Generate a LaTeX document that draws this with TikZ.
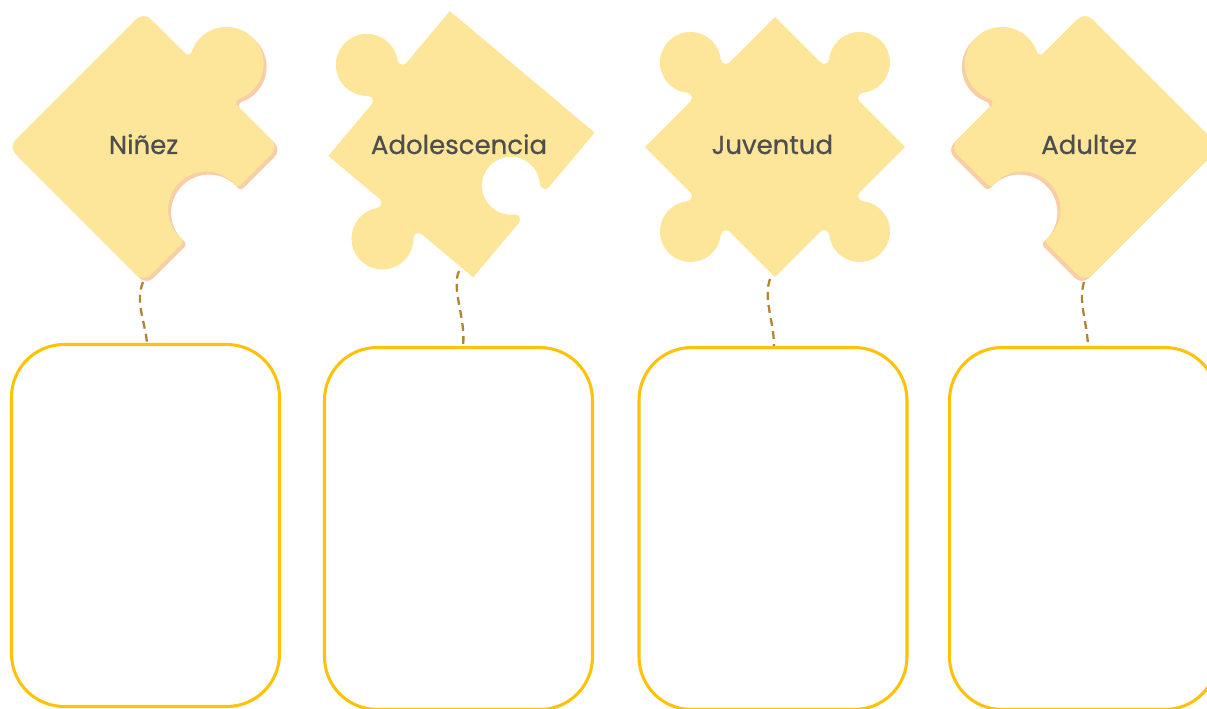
\documentclass[tikz,border=0pt]{standalone}
\usepackage{fontspec}
\setmainfont{Poppins}
\newfontfamily\labelfont[FakeBold=0.6]{Poppins}
\usepackage{tikz}

\definecolor{piecefill}{RGB}{253,230,153}
\definecolor{pieceshade}{RGB}{249,205,166}
\definecolor{boxgold}{RGB}{255,194,10}
\definecolor{linkbrown}{RGB}{176,132,52}
\definecolor{labelgray}{RGB}{78,78,78}

% puzzle edge helpers: d = offset of the circle, r = radius, f = fillet
\newcommand\neck[3]{sqrt((#2+#3)^2-(#1-#3)^2)}
\newcommand\tilt[3]{atan((#1-#3)/\neck{#1}{#2}{#3})}
\newcommand\flatedge[2]{-- ++({#1}:{2*#2})}
\newcommand\knobedge[5]{-- ++({#1}:{#2-\neck{#3}{#4}{#5}})
  arc[start angle={#1-90}, delta angle={90+\tilt{#3}{#4}{#5}}, radius=#5]
  arc[start angle={#1+180+\tilt{#3}{#4}{#5}}, delta angle={-180-2*\tilt{#3}{#4}{#5}}, radius=#4]
  arc[start angle={#1+180-\tilt{#3}{#4}{#5}}, delta angle={90+\tilt{#3}{#4}{#5}}, radius=#5]
  -- ++({#1}:{#2-\neck{#3}{#4}{#5}})}
\newcommand\holeedge[5]{-- ++({#1}:{#2-\neck{#3}{#4}{#5}})
  arc[start angle={#1+90}, delta angle={-90-\tilt{#3}{#4}{#5}}, radius=#5]
  arc[start angle={#1+180-\tilt{#3}{#4}{#5}}, delta angle={180+2*\tilt{#3}{#4}{#5}}, radius=#4]
  arc[start angle={#1+180+\tilt{#3}{#4}{#5}}, delta angle={-90-\tilt{#3}{#4}{#5}}, radius=#5]
  -- ++({#1}:{#2-\neck{#3}{#4}{#5}})}
\newcommand\cornerturn[2]{arc[start angle={#1+90}, delta angle=-90, radius=#2]}

% the three piece outlines
\newcommand\cornerpiece{(-85.5,95.5) \flatedge{0}{85.5} \cornerturn{0}{10}
  \knobedge{-90}{85.5}{22}{37}{4} \cornerturn{-90}{10}
  \holeedge{-180}{85.5}{7}{38}{4} \cornerturn{-180}{10}
  \flatedge{-270}{85.5} \cornerturn{-270}{10} -- cycle}
\newcommand\tiltpiece{(-94.5,94.5) \knobedge{0}{94.5}{29}{31}{5}
  \flatedge{-90}{94.5}
  \holeedge{-180}{94.5}{30}{29}{5}
  \knobedge{-270}{94.5}{28.5}{31}{5} -- cycle}
\newcommand\crosspiece{(-92,92) \knobedge{0}{92}{27.5}{30.5}{5}
  \knobedge{-90}{92}{27.5}{30.5}{5}
  \knobedge{-180}{92}{27.5}{30.5}{5}
  \knobedge{-270}{92}{27.5}{30.5}{5} -- cycle}

\begin{document}
\begin{tikzpicture}[x=0.02cm, y=0.02cm,
    stagebox/.style={draw=boxgold, line width=1.75pt, rounded corners=1.05cm,
      minimum width=5.36cm, minimum height=7.24cm},
    stagelabel/.style={text=labelgray, font=\labelfont\fontsize{14.8}{18}\selectfont, anchor=base},
    link/.style={draw=linkbrown, line width=1.3pt, dash pattern=on 4.5pt off 3pt}]
    \useasboundingbox (0,0) rectangle (1207,-709);

    % Ninez
    \fill[pieceshade, shift={(146.5,-150)}, rotate=45] \cornerpiece;
    \fill[piecefill, shift={(143.5,-147)}, rotate=45] \cornerpiece;
    \node[stagelabel] (ninez) at (143.5,-154) {Niñez};
    \coordinate (ninez-tip) at (143,-282);
    \node[stagebox] (ninez-box) at (145.5,-525.5) {};

    % Adolescencia
    \fill[piecefill, shift={(461.5,-144.25)}, rotate=50] \tiltpiece;
    \node[stagelabel] (adol) at (459,-154) {Adolescencia};
    \coordinate (adol-tip) at (459,-271);
    \node[stagebox] (adol-box) at (458.5,-528.5) {};

    % Juventud
    \fill[piecefill, shift={(775,-147)}, rotate=45] \crosspiece;
    \node[stagelabel] (juv) at (772.3,-154) {Juventud};
    \coordinate (juv-tip) at (770,-279);
    \node[stagebox] (juv-box) at (773,-528.5) {};

    % Adultez
    \fill[pieceshade, shift={(1082,-150)}, xscale=-1, rotate=45] \cornerpiece;
    \fill[piecefill, shift={(1085,-147)}, xscale=-1, rotate=45] \cornerpiece;
    \node[stagelabel] (adult) at (1089,-154) {Adultez};
    \coordinate (adult-tip) at (1084,-282);
    \node[stagebox] (adult-box) at (1083.5,-528.5) {};

    % dashed links
    \draw[link] (ninez-tip) .. controls +(-8,-20) and +(-2,22) .. ([xshift=0.03cm]ninez-box.north);
    \draw[link] (adol-tip) .. controls +(-8,-18) and +(3,28) .. ([xshift=0.09cm]adol-box.north);
    \draw[link] (juv-tip) .. controls +(-7,-20) and +(0,25) .. ([xshift=0.02cm]juv-box.north);
    \draw[link] (adult-tip) .. controls +(-6,-20) and +(-1,25) .. ([xshift=0.09cm]adult-box.north);
\end{tikzpicture}
\end{document}
